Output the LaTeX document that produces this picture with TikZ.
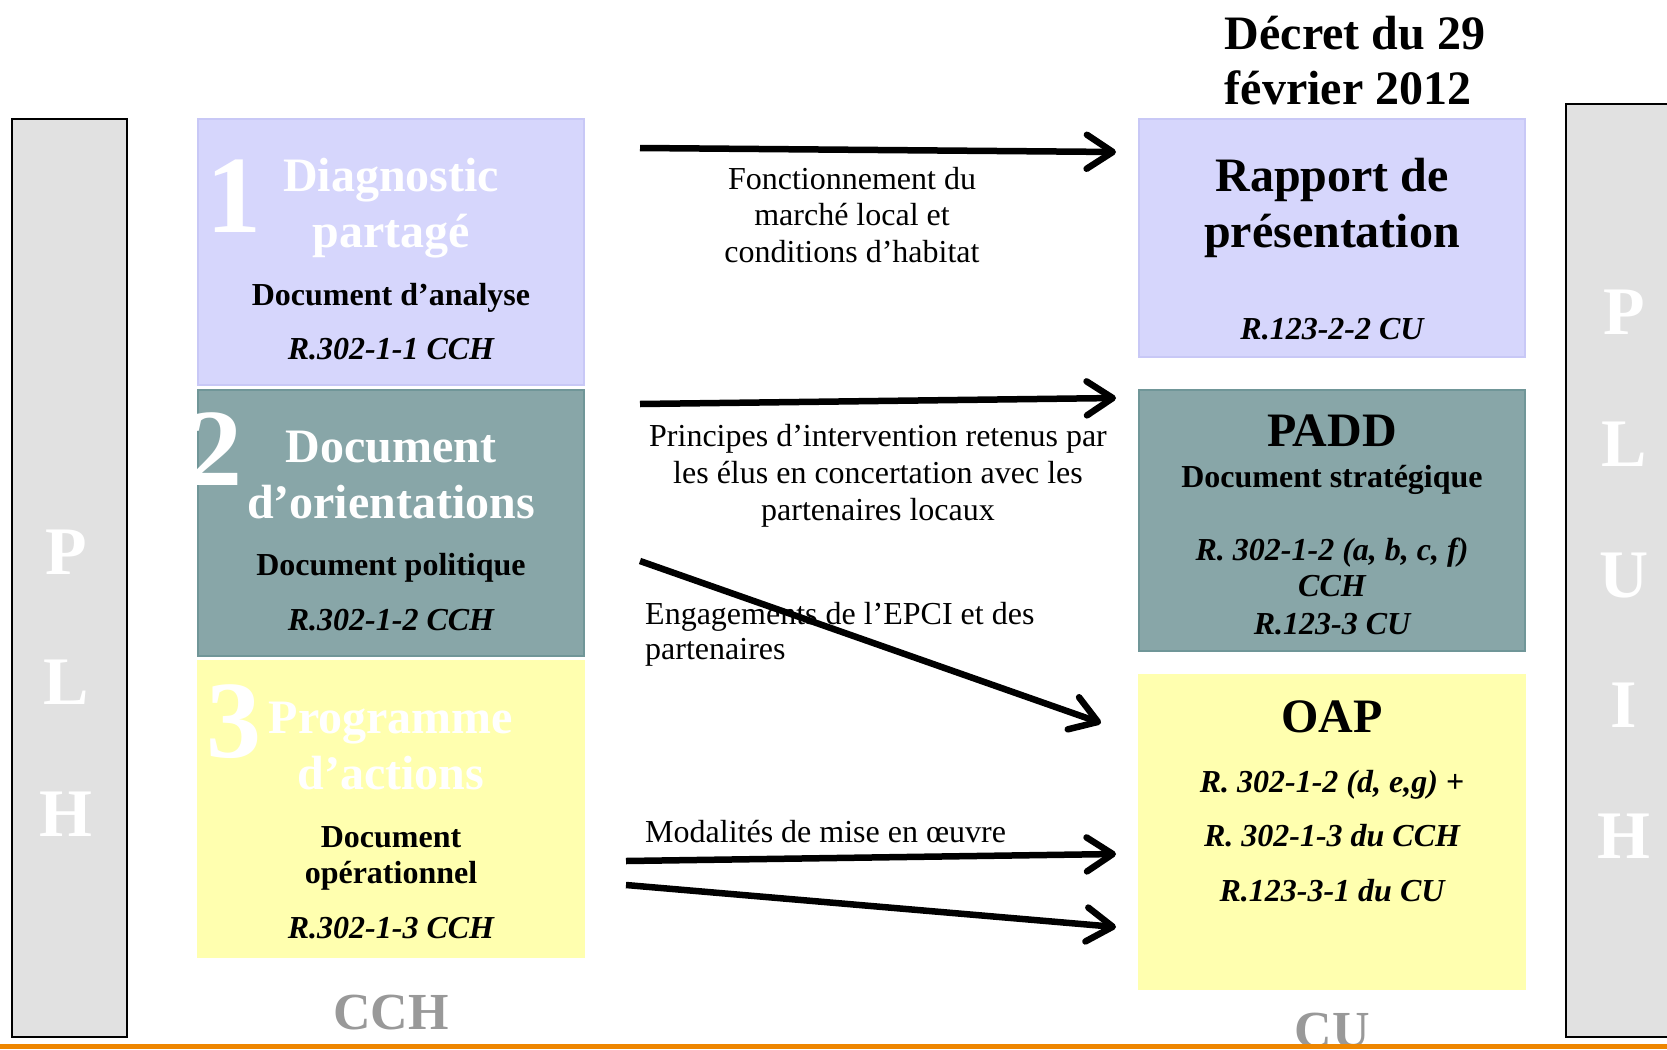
\documentclass[tikz,border=0pt]{standalone}
\usepackage{fontspec}
\setmainfont{Liberation Serif}
\usetikzlibrary{arrows.meta}
\definecolor{barfill}{RGB}{225,225,225}
\definecolor{diagfill}{RGB}{214,214,252}
\definecolor{diagline}{RGB}{200,200,246}
\definecolor{orientfill}{RGB}{136,166,168}
\definecolor{orientline}{RGB}{112,150,152}
\definecolor{actfill}{RGB}{255,255,175}
\definecolor{codegrey}{RGB}{153,153,153}
\definecolor{rule}{RGB}{238,134,0}
\tikzset{
  sidebar/.style={
    rectangle,
    draw=black,
    line width=2pt,
    fill=barfill,
    inner sep=0,
    minimum width=115pt,
  },
  doc/.style={
    rectangle,
    inner sep=0,
    line width=1.5pt,
    minimum width=386pt,
  },
  doc1/.style={doc, fill=diagfill, draw=diagline},
  doc2/.style={doc, fill=orientfill, draw=orientline},
  doc3/.style={doc, fill=actfill, draw=actfill},
  txt/.style={anchor=base, inner sep=0},
  bigtitle/.style={txt, font=\fontsize{48}{55}\selectfont\bfseries},
  subtitle/.style={txt, font=\fontsize{32}{36}\selectfont\bfseries},
  ref/.style={txt, font=\fontsize{32}{36}\selectfont\bfseries\itshape},
  note/.style={txt, font=\fontsize{32}{36}\selectfont},
  numeral/.style={txt, text=white, font=\fontsize{110}{110}\selectfont\bfseries},
  barletter/.style={txt, text=white, font=\fontsize{68}{68}\selectfont\bfseries},
  codelabel/.style={txt, text=codegrey, font=\fontsize{52}{52}\selectfont\bfseries},
  flow/.style={
    -{Straight Barb[length=26pt,width=34pt,round]},
    line width=6.5pt
  }
}

\begin{document}
\begin{tikzpicture}[x=1pt,y=-1pt]
    \useasboundingbox (0,0) rectangle (1667,1049);

    % side bars
    \node[sidebar,minimum height=918pt] (plh) at (69.5,578) {};
    \node[barletter] (plhP) at (66,574) {P};
    \node[barletter] (plhL) at (66,704) {L};
    \node[barletter] (plhH) at (66,836) {H};

    \node[sidebar,minimum height=933pt] (pluih) at (1623.5,570.5) {};
    \node[barletter] (pluihP) at (1624,334) {P};
    \node[barletter] (pluihL) at (1624,466) {L};
    \node[barletter] (pluihU) at (1624,597) {U};
    \node[barletter] (pluihI) at (1624,727) {I};
    \node[barletter] (pluihH) at (1624,858) {H};

    % PLH documents
    \node[doc1,minimum height=266pt] (diag) at (391,252) {};
    \node[numeral] (n1) at (234,232) {1};
    \node[bigtitle,text=white] (diagA) at (391,191) {Diagnostic};
    \node[bigtitle,text=white] (diagB) at (391,247) {partagé};
    \node[subtitle] (diagC) at (391,305) {Document d’analyse};
    \node[ref] (diagD) at (391,359) {R.302-1-1 CCH};

    \node[doc2,minimum height=266pt] (orient) at (391,523) {};
    \node[numeral] (n2) at (215,485) {2};
    \node[bigtitle,text=white] (orientA) at (391,462) {Document};
    \node[bigtitle,text=white] (orientB) at (391,518) {d’orientations};
    \node[subtitle] (orientC) at (391,575) {Document politique};
    \node[ref] (orientD) at (391,630) {R.302-1-2 CCH};

    \node[doc3,minimum height=296pt] (actions) at (391,809) {};
    \node[numeral] (n3) at (234,757) {3};
    \node[bigtitle,text=white] (actionsA) at (391,733) {Programme};
    \node[bigtitle,text=white] (actionsB) at (391,789) {d’actions};
    \node[subtitle] (actionsC) at (391,847) {Document};
    \node[subtitle] (actionsD) at (391,883) {opérationnel};
    \node[ref] (actionsE) at (391,938) {R.302-1-3 CCH};

    \node[codelabel] (cch) at (391,1029) {CCH};

    % PLUiH documents
    \node[bigtitle] (decretA) at (1355,50) {Décret du 29};
    \node[bigtitle] (decretB) at (1348,104) {février 2012};

    \node[doc1,minimum height=238pt] (rapport) at (1332,238) {};
    \node[bigtitle] (rapportA) at (1332,191) {Rapport de};
    \node[bigtitle] (rapportB) at (1332,247) {présentation};
    \node[ref] (rapportC) at (1332,339) {R.123-2-2 CU};

    \node[doc2,minimum height=261pt] (padd) at (1332,520.5) {};
    \node[bigtitle] (paddA) at (1332,446) {PADD};
    \node[subtitle] (paddB) at (1332,487) {Document stratégique};
    \node[ref] (paddC) at (1332,560) {R. 302-1-2 (a, b, c, f)};
    \node[ref] (paddD) at (1332,596) {CCH};
    \node[ref] (paddE) at (1332,634) {R.123-3 CU};

    \node[doc3,minimum height=314pt] (oap) at (1332,832) {};
    \node[bigtitle] (oapA) at (1332,732) {OAP};
    \node[ref] (oapB) at (1332,792) {R. 302-1-2 (d, e,g) +};
    \node[ref] (oapC) at (1332,846) {R. 302-1-3 du CCH};
    \node[ref] (oapD) at (1332,901) {R.123-3-1 du CU};

    \node[codelabel] (cu) at (1332,1047) {CU};

    % arrow labels
    \node[note] (l1a) at (852,189) {Fonctionnement du};
    \node[note] (l1b) at (852,225) {marché local et};
    \node[note] (l1c) at (852,262) {conditions d’habitat};
    \node[note] (l2a) at (878,446) {Principes d’intervention retenus par};
    \node[note] (l2b) at (878,483) {les élus en concertation avec les};
    \node[note] (l2c) at (878,520) {partenaires locaux};
    \node[note,anchor=base west] (l3a) at (645,624) {Engagements de l’EPCI et des};
    \node[note,anchor=base west] (l3b) at (645,659) {partenaires};
    \node[note,anchor=base west] (l4) at (645,842) {Modalités de mise en œuvre};

    % arrows
    \node[coordinate] at (640,148) (s1) {};
    \node[coordinate] at (1116,152) (e1) {};
    \node[coordinate] at (640,404) (s2) {};
    \node[coordinate] at (1116,398) (e2) {};
    \node[coordinate] at (640,561) (s3) {};
    \node[coordinate] at (1101,723) (e3) {};
    \node[coordinate] at (626,861) (s4) {};
    \node[coordinate] at (1116,854) (e4) {};
    \node[coordinate] at (626,885) (s5) {};
    \node[coordinate] at (1116,927) (e5) {};

    \draw[flow] (s1) -- (e1);
    \draw[flow] (s2) -- (e2);
    \draw[flow] (s3) -- (e3);
    \draw[flow] (s4) -- (e4);
    \draw[flow] (s5) -- (e5);

    % bottom rule
    \draw[rule,line width=5pt] (0,1046.5) -- (1667,1046.5);
\end{tikzpicture}
\end{document}
